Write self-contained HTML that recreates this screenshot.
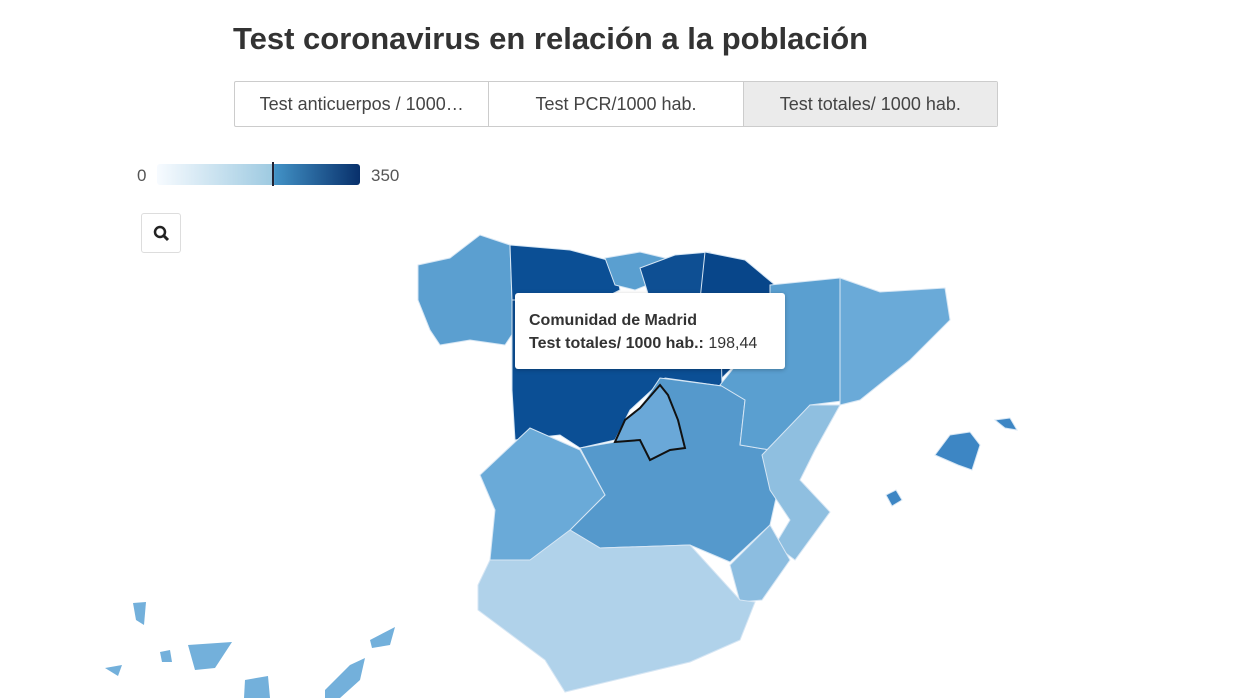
<!DOCTYPE html>
<html><head><meta charset="utf-8"><style>
body{margin:0;width:1248px;height:698px;background:#fff;font-family:"Liberation Sans",sans-serif;position:relative;overflow:hidden}
.t{position:absolute;left:233px;top:21px;font-size:31px;font-weight:bold;color:#333}
.btns{position:absolute;left:234px;top:81px;width:762px;height:44px;border:1px solid #ccc;display:flex;border-radius:2px}
.btns div{flex:1;display:flex;align-items:center;justify-content:center;font-size:18px;color:#444;border-right:1px solid #ccc}
.btns div:last-child{border-right:none;background:#ebebeb}
.leg{position:absolute;left:157px;top:164px;width:203px;height:21px;border-radius:3px;background:linear-gradient(90deg,#f7fbff,#9ecae1 57%,#4292c6 58%,#08306b)}
.tt{position:absolute;left:515px;top:293px;width:270px;height:76px;background:#fff;border-radius:3px;box-shadow:0 1px 4px rgba(0,0,0,.25);font-size:16px;color:#333}
</style></head><body>
<div class="t">Test coronavirus en relación a la población</div>
<div class="btns"><div>Test anticuerpos / 1000…</div><div>Test PCR/1000 hab.</div><div>Test totales/ 1000 hab.</div></div>
<div style="position:absolute;left:137px;top:166px;font-size:17px;color:#555">0</div>
<div class="leg"></div>
<div style="position:absolute;left:272px;top:162px;width:2px;height:24px;background:#223"></div>
<div style="position:absolute;left:371px;top:166px;font-size:17px;color:#555">350</div>
<div style="position:absolute;left:141px;top:213px;width:40px;height:40px;border:1px solid #ddd;border-radius:3px;box-sizing:border-box"><svg width="40" height="40"><circle cx="18" cy="18" r="5" stroke="#222" stroke-width="2.5" fill="none"/><line x1="22" y1="22" x2="26" y2="26" stroke="#222" stroke-width="3"/></svg></div>
<svg width="1248" height="698" style="position:absolute;left:0;top:0" stroke="#d6e6f4" stroke-width="1">
<polygon fill="#5b9fd0" points="418,265 450,258 480,235 510,245 512,300 515,330 505,345 470,340 440,345 430,330 418,300"/>
<polygon fill="#0b4f95" points="510,245 570,250 615,262 620,290 600,300 512,300"/>
<polygon fill="#5a9fd0" points="605,258 640,252 665,258 660,280 635,290 615,285"/>
<polygon fill="#0e4f93" points="640,268 675,255 710,252 700,300 650,300"/>
<polygon fill="#08468a" points="705,252 745,260 775,285 770,330 740,360 720,380 700,300"/>
<polygon fill="#0b4f95" points="512,300 720,300 722,386 665,378 630,410 615,440 580,448 560,435 515,440 512,390"/>
<polygon fill="#5599cc" points="580,448 615,442 640,408 660,378 722,386 745,400 740,445 770,450 780,480 770,525 730,562 690,545 600,548 570,530 605,495"/>
<polygon fill="#5a9fd0" points="770,285 840,278 850,400 810,405 770,450 740,445 745,400 720,385 740,360 770,330"/>
<polygon fill="#6aaad8" points="840,278 880,292 945,288 950,320 910,360 860,400 840,405"/>
<polygon fill="#8fbfe0" points="810,405 840,405 815,450 800,480 830,512 795,560 775,545 790,520 770,490 762,455"/>
<polygon fill="#8cbde0" points="730,565 770,525 790,560 762,600 740,602"/>
<polygon fill="#b0d2ea" points="490,560 570,530 600,548 690,545 740,600 755,602 740,640 690,662 565,692 545,660 478,610 478,585"/>
<polygon fill="#6aaad8" points="480,475 530,428 580,450 605,495 570,530 530,560 490,560 495,510"/>
<polygon fill="#6aa8d8" stroke="#111" stroke-width="2" points="660,385 668,395 678,420 685,448 670,450 650,460 640,440 615,442 625,420 640,408"/>
<polygon fill="#3d86c4" points="935,455 950,435 970,432 980,445 972,470 958,465"/>
<polygon fill="#3d86c4" points="995,420 1010,418 1017,430 1005,428"/>
<polygon fill="#3d86c4" points="886,495 896,490 902,500 892,506"/>
<g fill="#73b0db" stroke="none">
<polygon points="133,603 146,602 144,625 136,620"/>
<polygon points="160,652 170,650 172,662 162,662"/>
<polygon points="188,645 232,642 215,668 195,670"/>
<polygon points="105,668 122,665 118,676"/>
<polygon points="245,680 268,676 270,698 244,698"/>
<polygon points="325,690 350,665 365,658 360,680 340,698 325,698"/>
<polygon points="370,640 395,627 390,645 372,648"/>
</g>
</svg>
<div class="tt"><div style="position:absolute;left:14px;top:19px;font-weight:bold">Comunidad de Madrid</div><div style="position:absolute;left:14px;top:42px"><b>Test totales/ 1000 hab.:</b> 198,44</div></div>
</body></html>
